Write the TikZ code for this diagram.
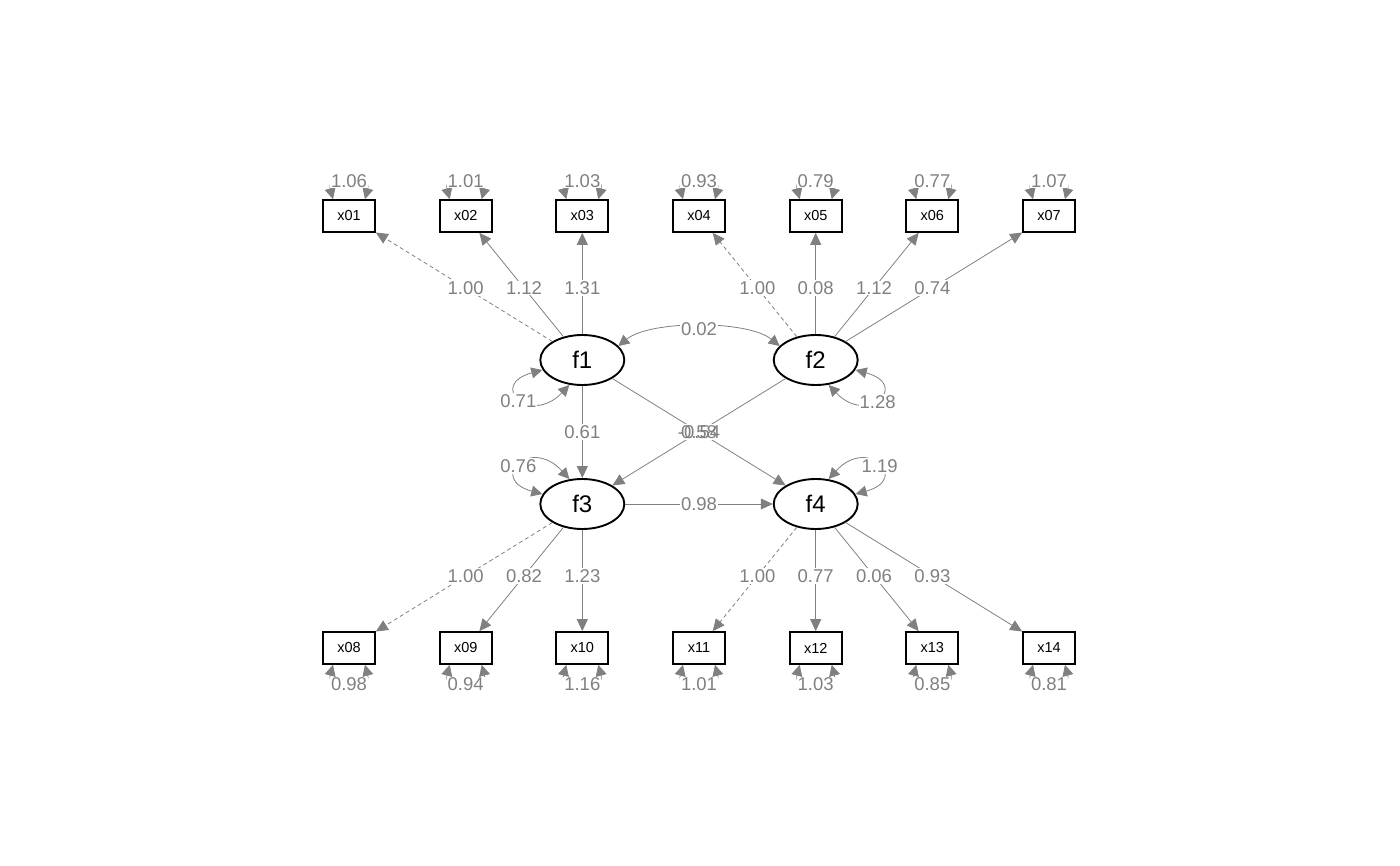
\documentclass[tikz,border=0pt]{standalone}
\usepackage{fontspec}
\setmainfont{Liberation Sans}
\usetikzlibrary{arrows.meta,calc,shapes.geometric}
\definecolor{edgegray}{HTML}{808080}
\begin{document}
\begin{tikzpicture}[x=1pt,y=-1pt,
  obs/.style={draw=black, line width=1.7pt, minimum width=52pt, minimum height=32pt, inner sep=0pt, font=\fontsize{14.5}{14.5}\selectfont},
  lat/.style={ellipse, draw=black, line width=1.9pt, minimum width=84pt, minimum height=50pt, inner sep=0pt, font=\fontsize{24}{24}\selectfont},
  edgeln/.style={draw=edgegray, line width=0.8pt, -{Triangle[length=12pt,width=11pt]}},
  dashedln/.style={edgeln, dash pattern=on 4pt off 3pt},
  lbl/.style={fill=white, text=edgegray, inner sep=1pt, font=\fontsize{18.5}{18.5}\selectfont},
  lblnofill/.style={text=edgegray, inner sep=1pt, font=\fontsize{18.5}{18.5}\selectfont},
  varln/.style={draw=edgegray, line width=0.8pt, {Triangle[length=11pt,width=11pt]}-{Triangle[length=11pt,width=11pt]}},
]
\useasboundingbox (0,0) rectangle (1400,866);

% latent variables
\node[lat] (f1) at (582.3,360) {f1};
\node[lat] (f2) at (815.7,360) {f2};
\node[lat] (f3) at (582.3,504) {f3};
\node[lat] (f4) at (815.7,504) {f4};

% observed variables
\node[obs] (x01) at (349,216) {x01};
\node[obs] (x02) at (465.7,216) {x02};
\node[obs] (x03) at (582.3,216) {x03};
\node[obs] (x04) at (699,216) {x04};
\node[obs] (x05) at (815.7,216) {x05};
\node[obs] (x06) at (932.3,216) {x06};
\node[obs] (x07) at (1049,216) {x07};
\node[obs] (x08) at (349,648) {x08};
\node[obs] (x09) at (465.7,648) {x09};
\node[obs] (x10) at (582.3,648) {x10};
\node[obs] (x11) at (699,648) {x11};
\node[obs] (x12) at (815.7,648) {x12};
\node[obs] (x13) at (932.3,648) {x13};
\node[obs] (x14) at (1049,648) {x14};

% loadings
\draw[dashedln] (f1) -- (x01);
\draw[edgeln] (f1) -- (x02);
\draw[edgeln] (f1) -- (x03);
\draw[dashedln] (f2) -- (x04);
\draw[edgeln] (f2) -- (x05);
\draw[edgeln] (f2) -- (x06);
\draw[edgeln] (f2) -- (x07);
\draw[dashedln] (f3) -- (x08);
\draw[edgeln] (f3) -- (x09);
\draw[edgeln] (f3) -- (x10);
\draw[dashedln] (f4) -- (x11);
\draw[edgeln] (f4) -- (x12);
\draw[edgeln] (f4) -- (x13);
\draw[edgeln] (f4) -- (x14);

% regressions
\draw[edgeln] (f1) -- (f3);
\draw[edgeln] (f1) -- (f4);
\draw[edgeln] (f2) -- (f3);
\draw[edgeln] (f3) -- (f4);

% covariance f1 <-> f2
\draw[varln] ($(f1)+(36,-14)$) .. controls ($(f1)+(68,-40)$) and ($(f2)+(-68,-40)$) .. ($(f2)+(-36,-14)$);

% latent variances
\draw[varln] ($(f1)+(-40,10)$) .. controls ($(f1)+(-95,25)$) and ($(f1)+(-52,66)$) .. ($(f1)+(-13,25)$);
\draw[varln] ($(f2)+(40,10)$) .. controls ($(f2)+(95,25)$) and ($(f2)+(52,66)$) .. ($(f2)+(13,25)$);
\draw[varln] ($(f3)+(-40,-10)$) .. controls ($(f3)+(-95,-25)$) and ($(f3)+(-52,-68)$) .. ($(f3)+(-13,-25)$);
\draw[varln] ($(f4)+(40,-10)$) .. controls ($(f4)+(95,-25)$) and ($(f4)+(52,-68)$) .. ($(f4)+(13,-25)$);

% observed variances
\foreach \v in {x01,x02,x03,x04,x05,x06,x07}{
  \draw[varln] ($(\v.north)+(-16,0)$) .. controls +(-7,-26) and +(7,-26) .. ($(\v.north)+(16,0)$);
}
\foreach \v in {x08,x09,x10,x11,x12,x13,x14}{
  \draw[varln] ($(\v.south)+(-16,0)$) .. controls +(-7,26) and +(7,26) .. ($(\v.south)+(16,0)$);
}

% loading labels
\node[lbl] at ($(f1)!0.5!(x01)$) {1.00};
\node[lbl] at ($(f1)!0.5!(x02)$) {1.12};
\node[lbl] at ($(f1)!0.5!(x03)$) {1.31};
\node[lbl] at ($(f2)!0.5!(x04)$) {1.00};
\node[lbl] at ($(f2)!0.5!(x05)$) {0.08};
\node[lbl] at ($(f2)!0.5!(x06)$) {1.12};
\node[lbl] at ($(f2)!0.5!(x07)$) {0.74};
\node[lbl] at ($(f3)!0.5!(x08)$) {1.00};
\node[lbl] at ($(f3)!0.5!(x09)$) {0.82};
\node[lbl] at ($(f3)!0.5!(x10)$) {1.23};
\node[lbl] at ($(f4)!0.5!(x11)$) {1.00};
\node[lbl] at ($(f4)!0.5!(x12)$) {0.77};
\node[lbl] at ($(f4)!0.5!(x13)$) {0.06};
\node[lbl] at ($(f4)!0.5!(x14)$) {0.93};

% regression labels
\node[lbl] at ($(f1)!0.5!(f3)$) {0.61};
\node[lbl] at ($(f1)!0.5!(f4)$) {0.58};
\node[lblnofill] at ($(f2)!0.5!(f3)$) {-0.54};
\node[lbl] at ($(f3)!0.5!(f4)$) {0.98};
\node[lbl] at ($(f1)!0.5!(f2)+(0,-31)$) {0.02};

% latent variance labels
\node[lbl] at ($(f1)+(-64,41)$) {0.71};
\node[lbl] at ($(f2)+(62,42)$) {1.28};
\node[lbl] at ($(f3)+(-64,-38)$) {0.76};
\node[lbl] at ($(f4)+(64,-38)$) {1.19};

% observed variance labels
\node[lbl] at ($(x01.north)+(0,-18.5)$) {1.06};
\node[lbl] at ($(x02.north)+(0,-18.5)$) {1.01};
\node[lbl] at ($(x03.north)+(0,-18.5)$) {1.03};
\node[lbl] at ($(x04.north)+(0,-18.5)$) {0.93};
\node[lbl] at ($(x05.north)+(0,-18.5)$) {0.79};
\node[lbl] at ($(x06.north)+(0,-18.5)$) {0.77};
\node[lbl] at ($(x07.north)+(0,-18.5)$) {1.07};
\node[lbl] at ($(x08.south)+(0,19.5)$) {0.98};
\node[lbl] at ($(x09.south)+(0,19.5)$) {0.94};
\node[lbl] at ($(x10.south)+(0,19.5)$) {1.16};
\node[lbl] at ($(x11.south)+(0,19.5)$) {1.01};
\node[lbl] at ($(x12.south)+(0,19.5)$) {1.03};
\node[lbl] at ($(x13.south)+(0,19.5)$) {0.85};
\node[lbl] at ($(x14.south)+(0,19.5)$) {0.81};
\end{tikzpicture}
\end{document}
